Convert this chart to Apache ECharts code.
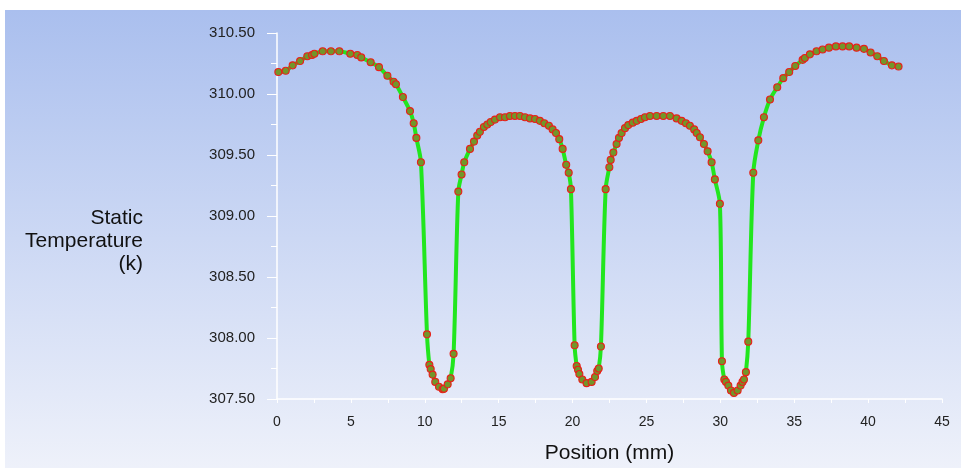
<!DOCTYPE html>
<html>
<head>
<meta charset="utf-8">
<title>Static Temperature</title>
<script src="https://cdn.jsdelivr.net/npm/echarts@6/dist/echarts.min.js"></script>
<style>
  html, body { margin: 0; padding: 0; background: #fff; }
  #chart { width: 961px; height: 468px; }
</style>
</head>
<body>
<div id="chart"></div>
<script>
// position along the line (mm)
var positions = [
  0.09, 0.59, 1.06, 1.56, 2.05, 2.37, 2.53, 3.09, 3.65, 4.22, 4.96, 5.43, 5.70, 6.34, 6.90, 7.47, 7.89, 8.05, 8.52, 9.00, 9.25, 9.43, 9.74,
  10.15, 10.31, 10.40, 10.53, 10.71, 10.96, 11.21, 11.30, 11.55, 11.75, 11.95,
  12.27, 12.49, 12.67, 13.06, 13.33, 13.55, 13.73, 14.00, 14.23, 14.46, 14.75, 15.09, 15.43, 15.76, 16.10, 16.44, 16.78, 17.12, 17.46,
  17.79, 18.09, 18.40, 18.65, 18.88, 19.10, 19.33, 19.57, 19.74, 19.89,
  20.14, 20.28, 20.37, 20.46, 20.66, 20.95, 21.29, 21.52, 21.67, 21.77, 21.92,
  22.24, 22.49, 22.58, 22.76, 22.98, 23.14, 23.32, 23.55, 23.77, 24.07, 24.34, 24.63, 24.90, 25.24, 25.69, 26.14, 26.59, 27.04, 27.38,
  27.67, 27.94, 28.23, 28.40, 28.62, 28.89, 29.14, 29.41, 29.63, 29.97,
  30.11, 30.27, 30.38, 30.54, 30.72, 30.92, 31.17, 31.37, 31.50, 31.60, 31.73, 31.89,
  32.23, 32.57, 32.95, 33.36, 33.85, 34.26, 34.66, 35.07, 35.57, 35.72, 36.06, 36.51, 36.92, 37.35, 37.82, 38.27, 38.72, 39.22, 39.72,
  40.17, 40.62, 41.07, 41.61, 42.06
];
// static temperature (k)
var temperatures = [
  310.18, 310.19, 310.235, 310.27, 310.31, 310.32, 310.33, 310.35, 310.35, 310.35, 310.33, 310.32, 310.30, 310.26, 310.22, 310.15, 310.10, 310.08, 309.975, 309.86, 309.76, 309.64, 309.44,
  308.03, 307.78, 307.745, 307.70, 307.64, 307.60, 307.58, 307.585, 307.62, 307.67, 307.87,
  309.20, 309.34, 309.44, 309.55, 309.61, 309.66, 309.69, 309.73, 309.75, 309.77, 309.79, 309.81, 309.81, 309.82, 309.82, 309.82, 309.81, 309.80, 309.795,
  309.78, 309.76, 309.74, 309.71, 309.68, 309.63, 309.55, 309.42, 309.355, 309.22,
  307.94, 307.77, 307.74, 307.705, 307.66, 307.63, 307.64, 307.68, 307.73, 307.75, 307.93,
  309.22, 309.40, 309.46, 309.52, 309.59, 309.64, 309.68, 309.72, 309.745, 309.765, 309.78, 309.795, 309.81, 309.82, 309.82, 309.82, 309.82, 309.80, 309.78,
  309.76, 309.74, 309.71, 309.68, 309.645, 309.59, 309.53, 309.44, 309.30, 309.10,
  307.81, 307.66, 307.64, 307.61, 307.57, 307.55, 307.57, 307.61, 307.64, 307.66, 307.72, 307.97,
  309.355, 309.62, 309.81, 309.955, 310.055, 310.13, 310.18, 310.23, 310.28, 310.295, 310.325, 310.35, 310.365, 310.38, 310.39, 310.39, 310.39, 310.38, 310.37,
  310.34, 310.31, 310.27, 310.235, 310.225
];

var xTitle = 'Position (mm)';
var yTitle = 'Static\nTemperature\n(k)';

var chart = echarts.init(document.getElementById('chart'));

var points = positions.map(function (x, i) {
  return [x, temperatures[i]];
});

var font = '"Liberation Sans", Arial, sans-serif';

chart.setOption({
  backgroundColor: '#ffffff',
  animation: false,
  graphic: [
    {
      type: 'rect',
      silent: true,
      z: -10,
      shape: { x: 5, y: 10, width: 956, height: 458 },
      style: {
        fill: new echarts.graphic.LinearGradient(0, 0, 0, 1, [
          { offset: 0, color: '#aabfee' },
          { offset: 1, color: '#eef1fa' }
        ])
      }
    },
    {
      type: 'text',
      silent: true,
      right: 961 - 143,
      top: 207,
      style: {
        text: yTitle,
        font: '21px ' + font,
        fill: '#111',
        textAlign: 'right',
        lineHeight: 23
      }
    }
  ],
  grid: { left: 277, right: 19, top: 33, bottom: 69, outerBoundsMode: 'none' },
  xAxis: {
    type: 'value',
    min: 0,
    max: 45,
    interval: 5,
    name: xTitle,
    nameLocation: 'middle',
    nameGap: 44,
    nameTextStyle: { fontFamily: font, fontSize: 21, color: '#111' },
    axisLine: { lineStyle: { color: '#ffffff', width: 1.5 } },
    axisTick: { show: true, inside: false, length: 4, lineStyle: { color: '#ffffff' } },
    minorTick: { show: true, splitNumber: 2, length: 4, lineStyle: { color: '#ffffff' } },
    axisLabel: { fontFamily: font, fontSize: 14, color: '#222', margin: 16 },
    splitLine: { show: false }
  },
  yAxis: {
    type: 'value',
    min: 307.5,
    max: 310.5,
    interval: 0.5,
    axisLine: { show: true, lineStyle: { color: '#ffffff', width: 1.5 } },
    axisTick: { show: true, length: 10, lineStyle: { color: '#ffffff' } },
    minorTick: { show: true, splitNumber: 2, length: 6, lineStyle: { color: '#ffffff' } },
    axisLabel: {
      fontFamily: font,
      fontSize: 15,
      color: '#222',
      margin: 22,
      formatter: function (v) { return v.toFixed(2); }
    },
    splitLine: { show: false }
  },
  series: [
    {
      type: 'line',
      data: points,
      smooth: 0.3,
      symbol: 'circle',
      symbolSize: 7,
      lineStyle: { color: '#22e61e', width: 4 },
      itemStyle: { color: '#72962a', borderColor: '#e8201a', borderWidth: 1.1 }
    }
  ]
});
</script>
</body>
</html>
